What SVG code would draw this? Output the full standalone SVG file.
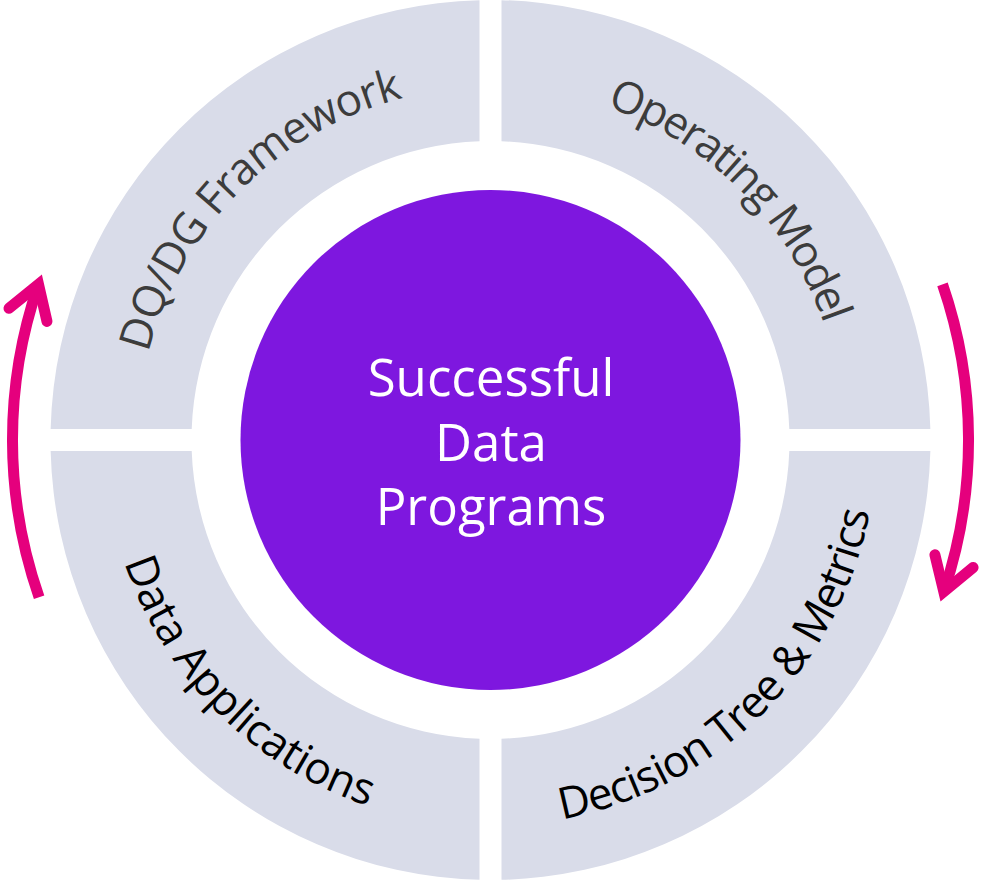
<svg xmlns="http://www.w3.org/2000/svg" width="982" height="883" viewBox="0 0 982 883">
<style>
.seg{fill:#D9DCE9}
.lbl{font-family:"Open Sans","Liberation Sans",sans-serif;font-size:44px;font-weight:500}
.top{fill:#3c3c3c}
.bot{fill:#000}
.ctr{font-family:"Open Sans","Liberation Sans",sans-serif;font-size:51px;font-weight:500;fill:#fff;text-anchor:middle}
.arc{fill:none;stroke:#E5007D;stroke-width:11}
.head{fill:none;stroke:#E5007D;stroke-width:11;stroke-linecap:round;stroke-linejoin:miter}
</style>
<defs>
<path id="pTL" d="M137.5,440 A353,353 0 0 1 490.5,87"/>
<path id="pTR" d="M490.5,87 A353,353 0 0 1 843.5,440"/>
<path id="pBL" d="M104.5,440 A386,386 0 0 0 490.5,826"/>
<path id="pBR" d="M490.5,826 A386,386 0 0 0 876.5,440"/>
</defs>
<rect width="982" height="883" fill="#fff"/>
<g id="dqdg">
<path class="seg" d="M50.64,429 A440,440 0 0 1 479.5,0.14 L479.5,141.2 A299,299 0 0 0 191.7,429 Z"/>
<text class="lbl top" text-anchor="middle"><textPath href="#pTL" startOffset="50%" textLength="378" lengthAdjust="spacing">DQ/DG Framework</textPath></text>
</g>
<g id="operating">
<path class="seg" d="M501.5,0.14 A440,440 0 0 1 930.36,429 L789.3,429 A299,299 0 0 0 501.5,141.2 Z"/>
<text class="lbl top" text-anchor="middle"><textPath href="#pTR" startOffset="50%" textLength="318" lengthAdjust="spacing">Operating Model</textPath></text>
</g>
<g id="decision">
<path class="seg" d="M930.36,451 A440,440 0 0 1 501.5,879.86 L501.5,738.8 A299,299 0 0 0 789.3,451 Z"/>
<text class="lbl bot" text-anchor="middle"><textPath href="#pBR" startOffset="50%" textLength="462" lengthAdjust="spacing">Decision Tree &amp; Metrics</textPath></text>
</g>
<g id="dataapps">
<path class="seg" d="M479.5,879.86 A440,440 0 0 1 50.64,451 L191.7,451 A299,299 0 0 0 479.5,738.8 Z"/>
<text class="lbl bot" text-anchor="middle"><textPath href="#pBL" startOffset="50%" textLength="357" lengthAdjust="spacing">Data Applications</textPath></text>
</g>
<g id="center">
<circle cx="490.5" cy="440" r="250" fill="#7E17DF"/>
<text class="ctr"><tspan x="491" y="396">Successful</tspan><tspan x="491" y="461">Data</tspan><tspan x="491" y="525">Programs</tspan></text>
</g>
<g id="connectors">
<path class="arc" d="M39.1,597.2 A478,478 0 0 1 38.5,284.4"/>
<polyline class="head" points="9,308.3 38.5,284.4 47,321.4"/>
<path class="arc" d="M942.5,284.4 A478,478 0 0 1 943.8,591.7"/>
<polyline class="head" points="973.1,567.5 943.8,591.7 934.9,554.8"/>
</g>
</svg>
